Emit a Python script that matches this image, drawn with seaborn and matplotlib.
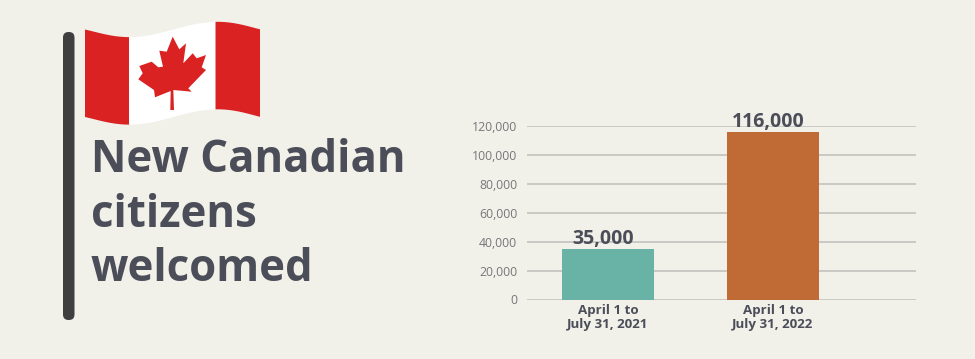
import numpy as np
import pandas as pd
import seaborn as sns
import matplotlib.pyplot as plt
from matplotlib.patches import FancyBboxPatch, Polygon

# data
periods = ['April 1 to\nJuly 31, 2021', 'April 1 to\nJuly 31, 2022']
citizens = [35000, 116000]
bar_labels = ['35,000', '116,000']
bar_colors = ['#68B3A6', '#C06A35']
y_ticks = [0, 20000, 40000, 60000, 80000, 100000, 120000]
title_lines = ['New Canadian', 'citizens', 'welcomed']

W, H = 975, 359
BG = '#F1F0E9'
TEXT = '#4B4E58'
RED = '#DA2222'

sns.set_style('white')
plt.rcParams['font.family'] = ['Open Sans', 'DejaVu Sans']

df = pd.DataFrame({'period': periods, 'citizens': citizens})

fig = plt.figure(figsize=(W / 100, H / 100), dpi=100, facecolor=BG)

# chart axes, placed in pixels
left, right, top, bottom = 527, 916, 126, 299.5
ax = fig.add_axes([left / W, 1 - bottom / H, (right - left) / W, (bottom - top) / H], facecolor=BG)
sns.barplot(data=df, x='period', y='citizens', hue='period', palette=bar_colors,
            legend=False, width=0.56, ax=ax, zorder=3, saturation=1, linewidth=0)
ax.set_xlim(-0.49, 1.867)
ax.set_ylim(0, 120000)
ax.set_yticks(y_ticks)
ax.set_yticklabels([f'{v:,}' for v in y_ticks], fontsize=8.8, color='#77777A')
ax.set_xlabel('')
ax.set_ylabel('')
ax.grid(axis='y', color='#C2C2BF', lw=1.2, zorder=0)
ax.grid(axis='x', visible=False)
ax.tick_params(axis='y', length=0, pad=7)
ax.tick_params(axis='x', length=0, pad=3)
for lab in ax.get_xticklabels():
    lab.set_fontsize(9.6)
    lab.set_fontweight('bold')
    lab.set_color(TEXT)
    lab.set_linespacing(1.15)
sns.despine(ax=ax, left=True, bottom=True, top=True, right=True)
for i, (v, t) in enumerate(zip(citizens, bar_labels)):
    ax.annotate(t, (i, v), xytext=(-3.5, 0), textcoords='offset points', ha='center', va='bottom',
                fontsize=14, fontweight='bold', color=TEXT, zorder=4, annotation_clip=False)

# overlay in pixel coordinates for the pole, flag and heading
ov = fig.add_axes([0, 0, 1, 1], facecolor='none', zorder=5)
ov.set_xlim(0, W)
ov.set_ylim(H, 0)
ov.axis('off')

ov.add_patch(FancyBboxPatch((63, 32), 11.5, 288, boxstyle='round,pad=0,rounding_size=5.5',
                            fc='#3F3F3F', ec='none'))

# smooth wave along the flag's top edge
wave = np.polyfit([85, 107, 129, 172, 216, 238, 260],
                  [29.5, 34.8, 37, 30, 21.7, 24, 29.3], 5)


def band(x0, x1, color):
    xs = np.linspace(x0, x1, 40)
    top_edge = np.polyval(wave, xs)
    bot_edge = top_edge + 87.5
    pts = np.r_[np.c_[xs, top_edge], np.c_[xs[::-1], bot_edge[::-1]]]
    ov.add_patch(Polygon(pts, closed=True, fc=color, ec='none'))


band(85, 129.5, RED)
band(129, 216, 'white')
band(215.5, 260, RED)

# maple leaf outline
leaf = [(172.7, 36.7), (179.3, 49.3), (186, 43.3), (183.3, 63.3), (192.7, 53.3), (196.7, 58.3),
        (206, 55), (201.7, 67.3), (206, 70), (188.3, 88.3), (191.7, 91.7), (173.3, 90),
        (174, 110), (170.3, 110), (170.7, 91), (155, 97.3), (154, 90), (138.3, 79.3),
        (142.7, 73.3), (139.3, 66), (151.7, 61.7), (158.3, 67.3), (163, 66.7), (159.3, 50.7),
        (166.7, 51.7)]
ov.add_patch(Polygon(leaf, closed=True, fc=RED, ec='none'))

for txt, y in zip(title_lines, [172, 227, 281]):
    ov.text(91, y, txt, fontsize=31.5, fontweight='bold', color=TEXT, va='baseline', ha='left')

fig.savefig('out.png', dpi=100, facecolor=BG)
